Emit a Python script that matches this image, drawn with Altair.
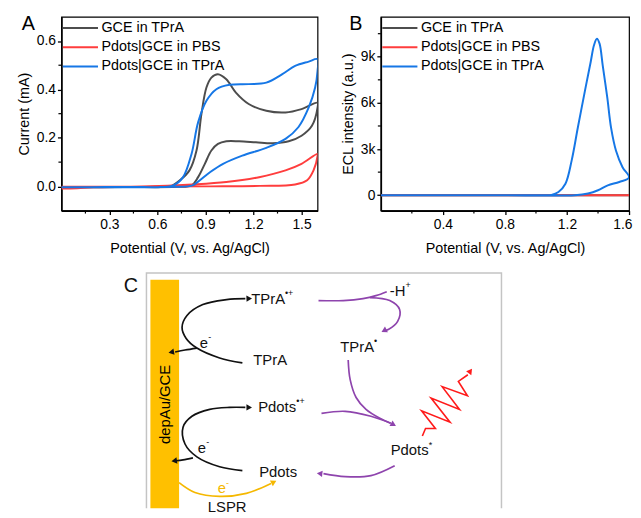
import altair as alt
import pandas as pd

SERIES = ["GCE in TPrA", "Pdots|GCE in PBS", "Pdots|GCE in TPrA"]
SERIES_COLORS = ["#4d4d4d", "#ff3d3d", "#1677e6"]

# ---------------- Panel A: cyclic voltammograms (V, mA) forward + reverse scan
cv_gce_v = [0.00, 0.30, 0.60, 0.68, 0.74, 0.80, 0.844, 0.875, 0.906, 0.937, 0.978, 1.03, 1.09, 1.17, 1.28, 1.40, 1.50, 1.60,
            1.60, 1.565, 1.50, 1.42, 1.32, 1.215, 1.11, 1.03, 0.978, 0.937, 0.896, 0.854, 0.813, 0.72, 0.40, 0.00]
cv_gce_i = [-0.004, -0.003, -0.002, 0.000, 0.025, 0.066, 0.148, 0.300, 0.408, 0.449, 0.463, 0.442, 0.387, 0.340, 0.312, 0.305, 0.319, 0.345,
            0.325, 0.250, 0.209, 0.186, 0.178, 0.182, 0.186, 0.186, 0.175, 0.148, 0.093, 0.038, 0.004, -0.002, -0.003, -0.004]
cv_pbs_v = [0.00, 0.10, 0.20, 0.50, 0.82, 1.03, 1.235, 1.40, 1.50, 1.60, 1.60, 1.575, 1.535, 1.46, 1.24, 0.93, 0.50, 0.00]
cv_pbs_i = [-0.009, -0.008, -0.004, -0.001, 0.008, 0.018, 0.038, 0.066, 0.093, 0.134, 0.125, 0.066, 0.025, 0.008, 0.002, 0.000, -0.001, -0.002]
cv_tpra_v = [0.00, 0.30, 0.62, 0.70, 0.76, 0.813, 0.854, 0.906, 0.968, 1.05, 1.17, 1.28, 1.38, 1.46, 1.545, 1.60,
             1.60, 1.585, 1.545, 1.48, 1.40, 1.28, 1.13, 1.01, 0.93, 0.865, 0.82, 0.70, 0.40, 0.00]
cv_tpra_i = [-0.004, -0.003, -0.003, 0.004, 0.038, 0.134, 0.264, 0.353, 0.401, 0.419, 0.422, 0.428, 0.463, 0.497, 0.515, 0.525,
             0.476, 0.408, 0.326, 0.244, 0.196, 0.159, 0.127, 0.093, 0.059, 0.025, 0.004, -0.002, -0.003, -0.004]

a_x_ticks = [0.3, 0.6, 0.9, 1.2, 1.5]
a_x_minor = [0.15, 0.45, 0.75, 1.05, 1.35]
a_y_ticks = [0.0, 0.2, 0.4, 0.6]
a_y_minor = [0.1, 0.3, 0.5]

# ---------------- Panel B: ECL intensity (a.u.)
ecl_gce_v = [0.00, 1.60]
ecl_gce_i = [0, 0]
ecl_pbs_v = [0.00, 1.60]
ecl_pbs_i = [0, 0]
ecl_tpra_v = [0.00, 1.05, 1.10, 1.145, 1.19, 1.23, 1.27, 1.315, 1.353, 1.374, 1.393, 1.41, 1.43, 1.46, 1.484, 1.516, 1.558, 1.60,
              1.537, 1.463, 1.40, 1.336, 1.25, 0.80, 0.00]
ecl_tpra_i = [0, 0, 20, 210, 750, 2250, 4400, 6750, 8680, 9750, 10170, 9850, 8460, 6320, 4390, 2890, 1820, 1150,
              860, 640, 320, 110, 0, 0, 0]

b_x_ticks = [0.4, 0.8, 1.2, 1.6]
b_x_minor = [0.2, 0.6, 1.0, 1.4]
b_y_ticks = [0, 3000, 6000, 9000]
b_y_minor = [1500, 4500, 7500, 10500]

# ---------------- Panel C: schematic (diagram coordinates)
BLACK, PURPLE, ORANGE, RED = "#111111", "#8e44ad", "#f5b800", "#ff1a1a"
c_curves = {
    "tpra_ox":   ([243, 220, 197, 186, 182, 187, 203, 227, 246], [363, 358, 348, 338, 327, 315, 304, 299, 298], BLACK),
    "tpra_e":    ([197, 185, 175], [348, 350, 352], BLACK),
    "pdots_ox":  ([243, 220, 197, 185, 183, 192, 210, 230, 246], [472, 468, 458, 445, 428, 417, 410, 408, 408], BLACK),
    "pdots_e":   ([193, 183, 176], [459, 461, 462], BLACK),
    "lspr":      ([179, 195, 220, 247, 272], [484, 494, 498, 495, 485], ORANGE),
    "deprot":    ([320, 345, 365, 378, 389], [300, 300, 298, 295, 291], PURPLE),
    "radical":   ([372, 392, 402, 400, 391, 388], [297, 300, 309, 321, 329, 330], PURPLE),
    "rad_excite": ([350, 352, 358, 368, 382, 393], [360, 380, 398, 410, 419, 424], PURPLE),
    "cat_excite": ([323, 347, 373, 393], [414, 412, 417, 424], PURPLE),
    "relax":     ([397, 373, 347, 325], [467, 477, 478, 475], PURPLE),
}
zigzag_x = [425, 428.2, 438.2, 424.2, 453, 433.8, 462.6, 445, 470.6, 461.4, 471]
zigzag_y = [437, 429.4, 429.4, 411.4, 423, 398.6, 410.2, 387, 396.2, 381.8, 375]

arrow_x = [249, 172, 249, 175, 274, 387, 395, 322, 473]
arrow_y = [298, 352, 408, 462, 484, 330, 425, 475, 372]
arrow_angle = [88, 260, 90, 261, 63, 243, 119, 276, 37]
arrow_color = [BLACK, BLACK, BLACK, BLACK, ORANGE, PURPLE, PURPLE, PURPLE, RED]

c_label_text = ["C", "TPrA", "TPrA", "TPrA", "Pdots", "Pdots", "Pdots", "-H", "e", "e", "e", "LSPR"]
c_label_x = [123, 252, 254, 342, 259, 393, 260, 392, 200, 198, 218, 208]
c_label_y = [285, 298, 360, 347, 408, 451, 473, 290, 343, 449, 490, 509]
c_label_size = [20, 15, 15, 15, 15, 15, 15, 15, 15, 15, 15, 15]
c_label_color = [BLACK] * 10 + [ORANGE, BLACK]

c_sup_text = ["•+", "•", "•+", "*", "+", "-", "-", "-"]
c_sup_x = [286, 376, 297.5, 431.5, 408, 208.5, 206.5, 226.5]
c_sup_y = [292, 341, 402, 446, 284, 337, 443, 484]
c_sup_color = [BLACK] * 7 + [ORANGE]

frame_box = {"x": [146], "x2": [505], "y": [272], "y2": [560]}
electrode_bar = {"x": [150], "x2": [179], "y": [279], "y2": [560]}
electrode_label = ["depAu/GCE"]

# ---------------- build tables
def series_df(vs, ys):
    rows = []
    for name, v, y in zip(SERIES, vs, ys):
        for k, (a, b) in enumerate(zip(v, y)):
            rows.append({"series": name, "v": a, "val": b, "k": k})
    return pd.DataFrame(rows)

df_a = series_df([cv_gce_v, cv_pbs_v, cv_tpra_v], [cv_gce_i, cv_pbs_i, cv_tpra_i])
df_b = series_df([ecl_gce_v, ecl_pbs_v, ecl_tpra_v], [ecl_gce_i, ecl_pbs_i, ecl_tpra_i])

FONT = "Liberation Sans"
legend = alt.Legend(title=None, orient="none", legendX=12, legendY=4, padding=0,
                    symbolType="M-3,0H3", symbolSize=140, symbolStrokeWidth=2,
                    labelFontSize=14.5, labelFont=FONT, labelColor="black",
                    labelOffset=14, rowPadding=4.5, labelLimit=300)
color = alt.Color("series:N", scale=alt.Scale(domain=SERIES, range=SERIES_COLORS), legend=legend)


def panel(df, xdom, ydom, xticks, yticks, xminor, yminor, ytitle, yfmt, ylabelexpr, letter, letter_x, w, h):
    xs = alt.Scale(domain=xdom, nice=False, zero=False)
    ys = alt.Scale(domain=ydom, nice=False, zero=False)
    xaxis = alt.Axis(values=xticks, format=".1f", title="Potential (V, vs. Ag/AgCl)",
                     labelPadding=3, titlePadding=10, labelFlushOffset=3)
    ykw = dict(values=yticks, format=yfmt, title=ytitle, labelPadding=2, titlePadding=5)
    if ylabelexpr:
        ykw["labelExpr"] = ylabelexpr
    yaxis = alt.Axis(**ykw)
    lines = alt.Chart(df).mark_line(interpolate="catmull-rom", strokeWidth=2, clip=True).encode(
        x=alt.X("v:Q", scale=xs, axis=xaxis),
        y=alt.Y("val:Q", scale=ys, axis=yaxis),
        color=color,
        order=alt.Order("k:Q"),
    )
    mx = alt.Chart(pd.DataFrame({"v": xminor})).mark_rule(color="black", strokeWidth=1.2).encode(
        x=alt.X("v:Q", scale=xs, axis=xaxis), y=alt.value(h), y2=alt.value(h + 3))
    my = alt.Chart(pd.DataFrame({"val": yminor})).mark_rule(color="black", strokeWidth=1.2).encode(
        y=alt.Y("val:Q", scale=ys, axis=yaxis), x=alt.value(-3), x2=alt.value(0))
    lab = alt.Chart(pd.DataFrame({"t": [letter]})).mark_text(
        fontSize=20, font=FONT, align="left", baseline="middle", color="black").encode(
        text="t:N", x=alt.value(letter_x), y=alt.value(7))
    return alt.layer(lines, mx, my, lab).properties(width=w, height=h)


chart_a = panel(df_a, [0, 1.6], [-0.1, 0.7], a_x_ticks, a_y_ticks, a_x_minor, a_y_minor,
                "Current (mA)", ".1f", None, "A", -40, 259, 196)
chart_b = panel(df_b, [0, 1.6], [-1000, 11600], b_x_ticks, b_y_ticks, b_x_minor, b_y_minor,
                "ECL intensity (a.u.)", "~s", "datum.value == 0 ? '0' : datum.label", "B", -32, 251, 196)

top = alt.hconcat(chart_a, chart_b, spacing=21).resolve_scale(color="independent").resolve_legend(color="independent")

# ---------------- schematic C
C_X0, C_Y0, C_W, C_H = 60, 260, 573, 250
cx = alt.Scale(domain=[C_X0, C_X0 + C_W], nice=False, zero=False)
cy = alt.Scale(domain=[C_Y0, C_Y0 + C_H], nice=False, zero=False, reverse=True)

curve_rows = []
for cid, (xs_, ys_, col) in c_curves.items():
    for k, (a, b) in enumerate(zip(xs_, ys_)):
        curve_rows.append({"cid": cid, "x": a, "y": b, "c": col, "k": k})
df_curves = pd.DataFrame(curve_rows)
df_zig = pd.DataFrame({"x": zigzag_x, "y": zigzag_y, "k": list(range(len(zigzag_x)))})
df_arrows = pd.DataFrame({"x": arrow_x, "y": arrow_y, "a": arrow_angle, "c": arrow_color})
df_labels = pd.DataFrame({"t": c_label_text, "x": c_label_x, "y": c_label_y, "s": c_label_size, "c": c_label_color})
df_sup = pd.DataFrame({"t": c_sup_text, "x": c_sup_x, "y": c_sup_y, "c": c_sup_color})

X = lambda f="x:Q": alt.X(f, scale=cx, axis=None)
Y = lambda f="y:Q": alt.Y(f, scale=cy, axis=None)

c_frame = alt.Chart(pd.DataFrame(frame_box)).mark_rect(fill="white", stroke="#c4c4c4", strokeWidth=1.5, clip=True).encode(
    x=X(), x2="x2:Q", y=Y(), y2="y2:Q")
c_bar = alt.Chart(pd.DataFrame(electrode_bar)).mark_rect(fill="#ffc000", clip=True).encode(
    x=X(), x2="x2:Q", y=Y(), y2="y2:Q")
c_bar_text = alt.Chart(pd.DataFrame({"t": electrode_label, "x": [164.5], "y": [405]})).mark_text(
    angle=270, fontSize=15, font=FONT, align="center", baseline="middle", color="black").encode(
    x=X(), y=Y(), text="t:N")
c_lines = alt.Chart(df_curves).mark_line(interpolate="catmull-rom", strokeWidth=1.7).encode(
    x=X(), y=Y(), detail="cid:N", order=alt.Order("k:Q"), color=alt.Color("c:N", scale=None))
c_zig = alt.Chart(df_zig).mark_line(strokeWidth=1.6, color=RED).encode(x=X(), y=Y(), order=alt.Order("k:Q"))
c_heads = alt.Chart(df_arrows).mark_point(shape="triangle", filled=True, size=42, opacity=1).encode(
    x=X(), y=Y(), angle=alt.Angle("a:Q", scale=None), color=alt.Color("c:N", scale=None))
c_text = alt.Chart(df_labels).mark_text(font=FONT, align="left", baseline="middle").encode(
    x=X(), y=Y(), text="t:N", size=alt.Size("s:Q", scale=None), color=alt.Color("c:N", scale=None))
c_sup = alt.Chart(df_sup).mark_text(font=FONT, fontSize=9, align="left", baseline="middle").encode(
    x=X(), y=Y(), text="t:N", color=alt.Color("c:N", scale=None))

chart_c = alt.layer(c_frame, c_bar, c_bar_text, c_lines, c_zig, c_heads, c_text, c_sup).properties(
    width=C_W, height=C_H, view=alt.ViewBackground(stroke="transparent"))

chart = alt.vconcat(top, chart_c, spacing=4).configure(
    font=FONT, padding={"left": 7, "top": 2, "right": 0, "bottom": 0}
).configure_view(stroke="black", strokeWidth=1.2).configure_axis(
    domainColor="black", domainWidth=1.6, tickColor="black", tickSize=4, tickWidth=1.3,
    labelFontSize=14, labelColor="black", labelFont=FONT,
    titleFontSize=14.5, titleFontWeight="normal", titleColor="black", titleFont=FONT, grid=False)

chart.save("out.html", embed_options={"renderer": "svg", "actions": False})
